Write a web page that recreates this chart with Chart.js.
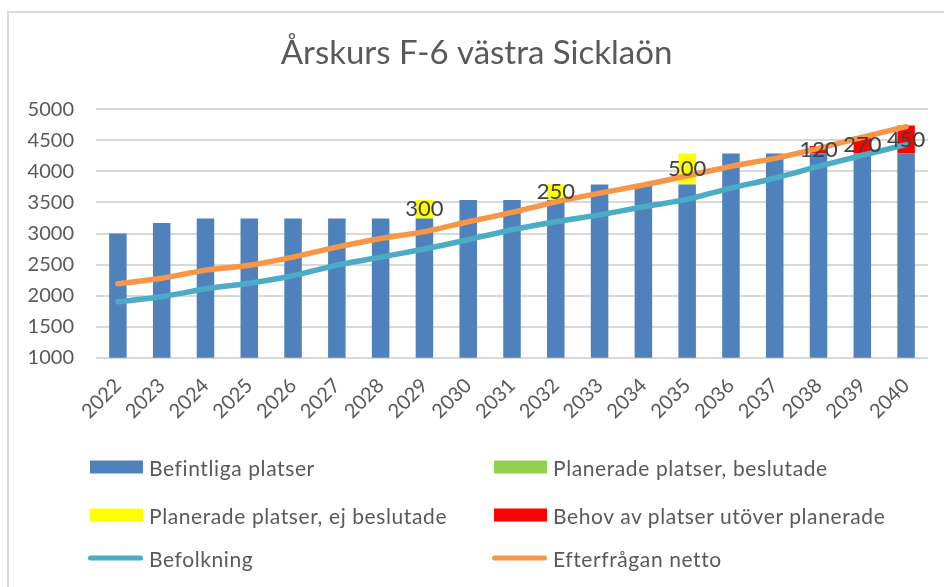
<!DOCTYPE html>
<html><head><meta charset="utf-8">
<script src="https://cdn.jsdelivr.net/npm/chart.js@4"></script>
<style>
html,body{margin:0;padding:0;background:#fff;}
#wrap{position:relative;width:944px;height:587px;overflow:hidden;background:#fff;font-family:Lato,sans-serif;}
#frame{position:absolute;left:7px;top:11px;width:1000px;height:1000px;border-left:2px solid #d9d9d9;border-top:2px solid #d9d9d9;}
#c{position:absolute;left:0;top:0;}
#legend{position:absolute;left:0;top:0;width:944px;height:587px;}
.item{position:absolute;display:flex;align-items:center;color:#595959;font-size:21px;letter-spacing:0.6px;white-space:nowrap;transform:translateY(-50%);}
.sw{display:inline-block;margin-right:6px;}
</style></head>
<body>
<div id="wrap">
  <div id="frame"></div>
  <canvas id="c" width="944" height="587"></canvas>
  <div id="legend"></div>
</div>
<script>
const years = ['2022','2023','2024','2025','2026','2027','2028','2029','2030','2031','2032','2033','2034','2035','2036','2037','2038','2039','2040'];
const befintliga = [3000,3170,3240,3240,3240,3240,3240,3240,3540,3540,3540,3790,3790,3790,4290,4290,4290,4290,4290];
const planBeslutade = [null,null,null,null,null,null,null,null,null,null,null,null,null,null,null,null,null,null,null];
const planEjBeslutade = [null,null,null,null,null,null,null,300,null,null,250,null,null,500,null,null,null,null,null];
const behov = [null,null,null,null,null,null,null,null,null,null,null,null,null,null,null,null,120,270,450];
const befolkning = [1900,1980,2110,2200,2320,2490,2620,2750,2900,3060,3190,3300,3430,3550,3730,3890,4080,4260,4430];
const efterfragan = [2190,2280,2410,2490,2620,2780,2920,3030,3190,3340,3510,3650,3780,3930,4080,4210,4370,4550,4720];
const yTicks = [1000,1500,2000,2500,3000,3500,4000,4500,5000];

const valueLabels = {
  id:'valueLabels',
  afterDatasetsDraw(chart){
    const ctx = chart.ctx;
    ctx.save();
    ctx.font = '22px Lato';
    ctx.fillStyle = '#404040';
    ctx.textAlign = 'center';
    ctx.textBaseline = 'middle';
    chart.data.datasets.forEach((ds,i)=>{
      if(!ds.showValues) return;
      const meta = chart.getDatasetMeta(i);
      meta.data.forEach((el,j)=>{
        const v = ds.data[j];
        if(v==null) return;
        ctx.fillText(String(v), el.x, (el.y+el.base)/2);
      });
    });
    ctx.restore();
  }
};

const htmlLegend = {
  id:'htmlLegend',
  afterUpdate(chart){
    const box = document.getElementById('legend');
    box.innerHTML = '';
    const colX = [90, 494];
    const rowY = [467, 515, 558];
    chart.data.datasets.forEach((ds,i)=>{
      const it = document.createElement('div');
      it.className = 'item';
      it.style.left = (colX[i%2] - (ds.type==='line'?2:0)) + 'px';
      it.style.top = rowY[Math.floor(i/2)] + 'px';
      const sw = document.createElement('span');
      sw.className = 'sw';
      if(ds.type==='line'){
        sw.style.width='55px'; sw.style.height='5px'; sw.style.borderRadius='3px'; sw.style.background=ds.borderColor;
      } else {
        sw.style.width='53px'; sw.style.height='13px'; sw.style.background=ds.backgroundColor;
      }
      const tx = document.createElement('span');
      tx.textContent = ds.label;
      it.appendChild(sw); it.appendChild(tx);
      box.appendChild(it);
    });
  }
};

new Chart(document.getElementById('c'), {
  data:{
    labels: years,
    datasets:[
      {type:'bar', label:'Befintliga platser', data:befintliga, backgroundColor:'#4F81BD', order:1, stack:'bars'},
      {type:'bar', label:'Planerade platser, beslutade', data:planBeslutade, backgroundColor:'#92D050', order:1, stack:'bars'},
      {type:'bar', label:'Planerade platser, ej beslutade', data:planEjBeslutade, backgroundColor:'#FFFF00', order:1, stack:'bars', showValues:true},
      {type:'bar', label:'Behov av platser utöver planerade', data:behov, backgroundColor:'#FF0000', order:1, stack:'bars', showValues:true},
      {type:'line', label:'Befolkning', data:befolkning, borderColor:'#4BACC6', backgroundColor:'#4BACC6', borderWidth:5.5, pointRadius:0, tension:0.2, borderCapStyle:'round', order:0, stack:'l1'},
      {type:'line', label:'Efterfrågan netto', data:efterfragan, borderColor:'#F79646', backgroundColor:'#F79646', borderWidth:5.5, pointRadius:0, tension:0.2, borderCapStyle:'round', order:0, stack:'l2'}
    ]
  },
  options:{
    responsive:false,
    animation:false,
    layout:{padding:{left:25,right:16,top:0,bottom:159.3}},
    datasets:{bar:{categoryPercentage:1, barPercentage:0.4}},
    plugins:{
      legend:{display:false},
      tooltip:{enabled:false},
      title:{display:true, text:'Årskurs F-6 västra Sicklaön', color:'#595959',
        font:{family:'Lato', size:33, weight:'normal', lineHeight:1.2},
        padding:{top:34, bottom:35.7}}
    },
    scales:{
      x:{stacked:true, grid:{display:false}, border:{display:false},
        ticks:{color:'#595959', font:{family:'Lato', size:20}, minRotation:45, maxRotation:45, padding:8, autoSkip:false},
        afterFit(s){ s.height = 70; }},
      y:{stacked:true, min:1000, max:5000,
        afterBuildTicks(s){ s.ticks = yTicks.map(v=>({value:v})); },
        grid:{color:'#d9d9d9', lineWidth:2, drawTicks:false}, border:{display:false},
        ticks:{color:'#595959', font:{family:'Lato', size:20}, padding:22, callback:(v)=>String(v)},
        afterFit(s){ s.width = 71; }}
    }
  },
  plugins:[valueLabels, htmlLegend]
});
</script>
</body></html>
